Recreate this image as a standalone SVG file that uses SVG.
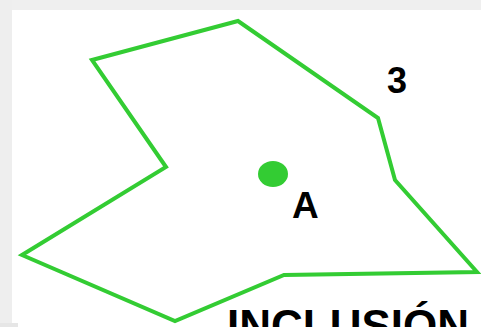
<svg xmlns="http://www.w3.org/2000/svg" width="481" height="327" viewBox="0 0 481 327">
<style>
.shape{fill:none;stroke:#33cc33;stroke-width:4;stroke-linejoin:miter}
.lbl{font-family:"Liberation Sans",Arial,sans-serif;font-weight:bold;fill:#000}
</style>
<rect x="0" y="0" width="481" height="327" fill="#ffffff"/>
<rect x="0" y="0" width="481" height="10" fill="#efefef"/>
<rect x="0" y="0" width="12" height="327" fill="#eeeeee"/>
<rect x="0" y="323" width="18" height="4" fill="#e6e6e6"/>
<g id="region3">
<polygon class="shape" points="92,60 238,21 378,118 395,180 477,272 284,275 175,321 22,255 166,167"/>
<text class="lbl" x="387" y="93" font-size="36">3</text>
</g>
<g id="pointA">
<ellipse cx="273" cy="174" rx="15" ry="13" fill="#33cc33"/>
<text class="lbl" x="292" y="218" font-size="37">A</text>
</g>
<g id="caption">
<text class="lbl" x="227" y="341" font-size="44">INCLUSIÓN</text>
</g>
</svg>
